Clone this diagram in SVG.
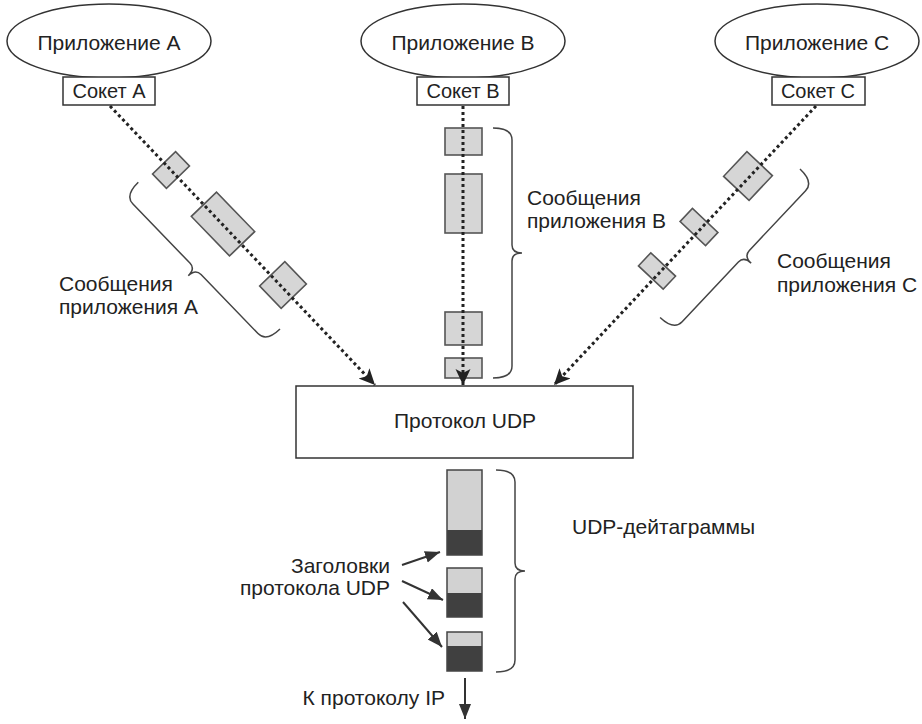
<svg xmlns="http://www.w3.org/2000/svg" width="922" height="724" viewBox="0 0 922 724">
<defs>
<style>
text{font-family:"Liberation Sans",Arial,sans-serif;font-size:21px;fill:#222}
.s{font-size:20px}
.c{text-anchor:middle}
.e{text-anchor:end}
.ell{fill:#fff;stroke:#333;stroke-width:1.5}
.box{fill:#fff;stroke:#333;stroke-width:1.5}
.msg{fill:#d6d6d6;stroke:#555;stroke-width:1.6}
.light{fill:#d2d2d2;stroke:none}
.dark{fill:#404040;stroke:none}
.dg{fill:none;stroke:#444;stroke-width:1.5}
.dot{fill:none;stroke:#222;stroke-width:3;stroke-dasharray:3 3}
.brace{fill:none;stroke:#444;stroke-width:1.5}
.arr{fill:none;stroke:#333;stroke-width:2}
</style>
<marker id="dart" markerUnits="userSpaceOnUse" markerWidth="18" markerHeight="16" refX="16" refY="7.5" orient="auto">
<path d="M0,0 L16,7.5 L0,15 L4,7.5 Z" fill="#222"/>
</marker>
<marker id="head" markerUnits="userSpaceOnUse" markerWidth="16" markerHeight="14" refX="15" refY="6" orient="auto">
<path d="M0,0 L15,6 L0,12 Z" fill="#333"/>
</marker>
</defs>
<rect width="922" height="724" fill="#fff"/>

<g id="appA">
<ellipse class="ell" cx="109" cy="41" rx="102" ry="37"/>
<text class="c" x="109" y="50">Приложение А</text>
</g>
<g id="socketA">
<rect class="box" x="63" y="77" width="92" height="28"/>
<text class="c s" x="109" y="98">Сокет А</text>
</g>
<g id="appB">
<ellipse class="ell" cx="463" cy="41" rx="102" ry="37"/>
<text class="c" x="463" y="50">Приложение В</text>
</g>
<g id="socketB">
<rect class="box" x="417" y="77" width="92" height="28"/>
<text class="c s" x="463" y="98">Сокет В</text>
</g>
<g id="appC">
<ellipse class="ell" cx="817" cy="41" rx="102" ry="37"/>
<text class="c" x="817" y="50">Приложение С</text>
</g>
<g id="socketC">
<rect class="box" x="772" y="77" width="93" height="28"/>
<text class="c s" x="818" y="98">Сокет С</text>
</g>

<g id="udp">
<rect class="box" x="296" y="386" width="337" height="72"/>
<text class="c" x="465" y="428">Протокол UDP</text>
</g>

<g id="messagesA">
<rect class="msg" x="-10" y="-16" width="20" height="32" transform="translate(171,170) rotate(46)"/>
<rect class="msg" x="-27.5" y="-17.5" width="55" height="35" transform="translate(223,224) rotate(46)"/>
<rect class="msg" x="-15.5" y="-17.5" width="31" height="35" transform="translate(283,285) rotate(46)"/>
<path class="brace" transform="translate(280,329) rotate(136)" d="M0,0 Q19,0 19,12 L19,94 Q19,102 29,102 Q19,102 19,110 L19,192 Q19,204 0,204"/>
<text x="59" y="291">Сообщения</text>
<text x="59" y="314">приложения А</text>
</g>

<g id="messagesB">
<rect class="msg" x="445" y="128" width="37" height="27"/>
<rect class="msg" x="445" y="174" width="37" height="59"/>
<rect class="msg" x="445" y="312" width="37" height="33"/>
<rect class="msg" x="445" y="358" width="37" height="20"/>
<path class="brace" transform="translate(493,128)" d="M0,0 Q19,0 19,12 L19,117 Q19,125 29,125 Q19,125 19,133 L19,238 Q19,250 0,250"/>
<text x="527" y="205">Сообщения</text>
<text x="527" y="228">приложения В</text>
</g>

<g id="messagesC">
<rect class="msg" x="-17" y="-17.5" width="34" height="35" transform="translate(748,176) rotate(133.3)"/>
<rect class="msg" x="-9" y="-17.5" width="18" height="35" transform="translate(699,227) rotate(133.3)"/>
<rect class="msg" x="-9" y="-17" width="18" height="34" transform="translate(657,271) rotate(133.3)"/>
<path class="brace" transform="translate(800,169) rotate(43.3)" d="M0,0 Q19,0 19,12 L19,94 Q19,102 29,102 Q19,102 19,110 L19,192 Q19,204 0,204"/>
<text x="777" y="268">Сообщения</text>
<text x="777" y="292">приложения С</text>
</g>

<g id="datagrams">
<rect class="light" x="447" y="470" width="35" height="60"/>
<rect class="dark" x="447" y="530" width="35" height="25"/>
<rect class="dg" x="447" y="470" width="35" height="85"/>
<rect class="light" x="447" y="568" width="35" height="25"/>
<rect class="dark" x="447" y="593" width="35" height="24"/>
<rect class="dg" x="447" y="568" width="35" height="49"/>
<rect class="light" x="447" y="632" width="35" height="14"/>
<rect class="dark" x="447" y="646" width="35" height="25"/>
<rect class="dg" x="447" y="632" width="35" height="39"/>
<path class="brace" transform="translate(496,470)" d="M0,0 Q19,0 19,12 L19,93 Q19,101 29,101 Q19,101 19,109 L19,190 Q19,202 0,202"/>
<text x="572" y="534">UDP-дейтаграммы</text>
</g>

<g id="headers">
<text class="e" x="390" y="573">Заголовки</text>
<text class="e" x="390" y="595">протокола UDP</text>
</g>

<g id="toIP">
<text class="e" x="445" y="705">К протоколу IP</text>
</g>

<g id="connectors">
<line class="dot" x1="110" y1="106" x2="375" y2="385" marker-end="url(#dart)"/>
<line class="dot" x1="463" y1="106" x2="463" y2="385" marker-end="url(#dart)"/>
<line class="dot" x1="816" y1="106" x2="554" y2="385" marker-end="url(#dart)"/>
<line class="arr" x1="402" y1="565" x2="440" y2="552" marker-end="url(#head)"/>
<line class="arr" x1="402" y1="581" x2="443" y2="600" marker-end="url(#head)"/>
<line class="arr" x1="403" y1="602" x2="442" y2="647" marker-end="url(#head)"/>
<line class="arr" x1="465" y1="678" x2="465" y2="719" marker-end="url(#head)"/>
</g>
</svg>
